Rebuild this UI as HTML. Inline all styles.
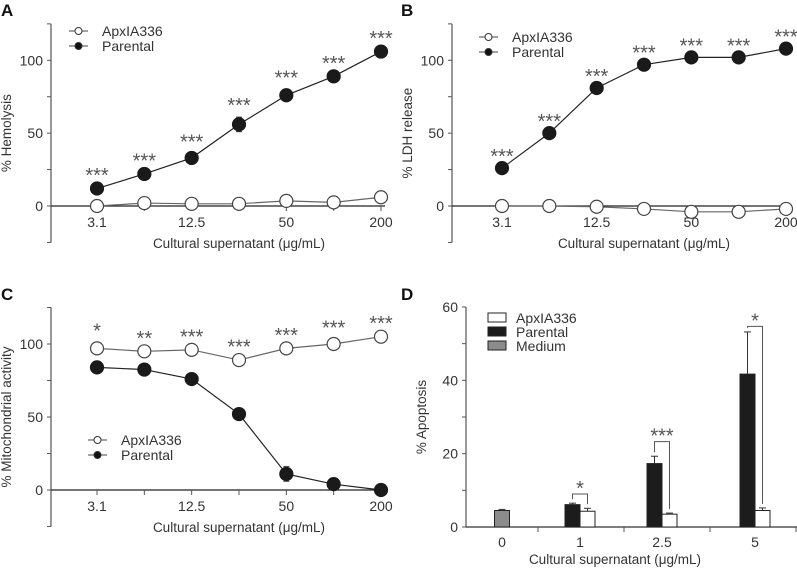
<!DOCTYPE html>
<html><head><meta charset="utf-8"><style>
body{margin:0;background:#fff}
svg{display:block;font-family:"Liberation Sans",sans-serif}
</style></head><body>
<svg id="fig" width="797" height="570" viewBox="0 0 797 570"></svg>
<script>
const xCats=["3.1","","12.5","","50","","200"];
const aApx=[0,2,1.5,1.5,3.5,2.5,6];
const aPar=[12,22,33,56,76,89,106];
const aParErr=[1,1,3,5,4,1,1];
const aSig=["***","***","***","***","***","***","***"];
const bApx=[0,0,-0.5,-2,-4,-4,-2];
const bPar=[26,50,81,97,102,102,108];
const bSig=["***","***","***","***","***","***","***"];
const cApx=[97,95,96,89,97,100,105];
const cApxErr=[4,1,1,1,1,3,1];
const cPar=[84,82.5,76,52,11,4,0];
const cParErr=[1,1,1,3,5,4,1];
const cSig=["*","**","***","***","***","***","***"];
const dCats=["0","1","2.5","5"];
const dPar=[null,6.1,17.3,41.7];
const dParErr=[0,0.4,2,11.5];
const dApx=[null,4.3,3.5,4.5];
const dApxErr=[0,0.8,0.3,0.7];
const dMed=[4.5,null,null,null];
const dMedErr=[0.3,0,0,0];
const dSig=[null,"*","***","*"];
const yTicks=[0,50,100];
const dTicks=[0,20,40,60];

const svg=document.getElementById('fig');
const NS='http://www.w3.org/2000/svg';
function mk(tag,attrs,parent,text){const e=document.createElementNS(NS,tag);for(const k in attrs)e.setAttribute(k,attrs[k]);if(text!==undefined)e.textContent=text;(parent||svg).appendChild(e);return e;}

function linePanel(o){
  const g=mk('g',{});
  
  
  const y=v=>o.y0-(v/100)*(o.y0-o.y100);
  const x=i=>o.x0+i*(o.x6-o.x0)/6;
  const L=mk('text',{x:o.lx,y:o.ly,'font-size':17,'font-weight':'bold',fill:'#111'},g,o.letter);
  
  const ax=mk('line',{x1:o.ax,x2:o.ax,y1:y(125),y2:y(-25),stroke:'#555','stroke-width':1.2},g);
  
  for(let v=-25;v<=125;v+=25){mk('line',{x1:o.ax-4,x2:o.ax,y1:y(v),y2:y(v),stroke:'#555'},g);}
  yTicks.forEach(v=>{const t=mk('text',{x:o.ax-8,y:y(v)+5,'text-anchor':'end','font-size':14,fill:'#333'},g,v);
    });
  const yl=mk('text',{transform:`translate(${o.ax-40},${y(50)}) rotate(-90)`,'text-anchor':'middle','font-size':13.5,fill:'#333'},g,o.ylabel);
  
  const xa=mk('line',{x1:o.ax,x2:x(6)+4,y1:y(0),y2:y(0),stroke:'#222','stroke-width':1.2},g);
  
  xCats.forEach((c,i)=>{mk('line',{x1:x(i),x2:x(i),y1:y(0),y2:y(0)+5,stroke:'#555'},g);
    if(c){const t=mk('text',{x:x(i),y:y(0)+21,'text-anchor':'middle','font-size':14,fill:'#333'},g,c);
      }});
  const xl=mk('text',{x:(o.x0+o.x6)/2,y:y(0)+42,'text-anchor':'middle','font-size':13.5,fill:'#333'},g,'Cultural supernatant (\u03bcg/mL)');
  
  o.series.forEach(s=>{
    const pts=s.vals.map((v,i)=>x(i)+','+y(v)).join(' ');
    const pl=mk('polyline',{points:pts,fill:'none',stroke:s.fill?'#222':'#666','stroke-width':1.2},g);
    
    s.vals.forEach((v,i)=>{
      const e=(s.err||[])[i]||0;
      if(e){mk('line',{x1:x(i),x2:x(i),y1:y(v+e),y2:y(v-e),stroke:'#333'},g);
        mk('line',{x1:x(i)-3,x2:x(i)+3,y1:y(v+e),y2:y(v+e),stroke:'#333'},g);
        mk('line',{x1:x(i)-3,x2:x(i)+3,y1:y(v-e),y2:y(v-e),stroke:'#333'},g);}
      const c=mk('circle',{cx:x(i),cy:y(v),r:6.5,fill:s.fill?'#1a1a1a':'#fff',stroke:s.fill?'#1a1a1a':'#444','stroke-width':1.2},g);
      
    });
  });
  o.sig.forEach((s,i)=>{const v=Math.max(...o.series.map(se=>se.vals[i]+((se.err||[])[i]||0)));
    const t=mk('text',{x:x(i),y:y(v)-5,'text-anchor':'middle','font-size':20,fill:'#555'},g,s);
    });
  [['ApxIA336',false],['Parental',true]].forEach((l,k)=>{
    const ly=o.legY+k*15;
    const lg=mk('g',{},g);
    
    mk('line',{x1:o.legX,x2:o.legX+19,y1:ly,y2:ly,stroke:'#444'},lg);
    mk('circle',{cx:o.legX+9.5,cy:ly,r:3.5,fill:l[1]?'#111':'#fff',stroke:'#333'},lg);
    mk('text',{x:o.legX+33,y:ly+5,'font-size':14,fill:'#333'},lg,l[0]);
  });
}

linePanel({letter:'A',lx:1,ly:16,ax:51,y0:206,y100:60.3,x0:97,x6:381,ylabel:'% Hemolysis',legX:69,legY:31,
  series:[{name:'apxia336',vals:aApx},{name:'parental',vals:aPar,err:aParErr,fill:true}],sig:aSig});
linePanel({letter:'B',lx:401,ly:16,ax:452,y0:206,y100:60.3,x0:502,x6:786,ylabel:'% LDH release',legX:479,legY:37,
  series:[{name:'apxia336',vals:bApx},{name:'parental',vals:bPar,fill:true}],sig:bSig});
linePanel({letter:'C',lx:1,ly:300,ax:51,y0:490,y100:344,x0:97,x6:381,ylabel:'% Mitochondrial activity',legX:88,legY:440,
  series:[{name:'apxia336',vals:cApx,err:cApxErr},{name:'parental',vals:cPar,err:cParErr,fill:true}],sig:cSig});

(function(){
  const g=mk('g',{});
  
  const ax=466,y0=527,y60=307;
  const y=v=>y0-v/60*(y0-y60);
  const cx=[502,580,662,755];
  const bw=15;
  mk('text',{x:401,y:300,'font-size':17,'font-weight':'bold',fill:'#111'},g,'D');
  const ya=mk('line',{x1:ax,x2:ax,y1:y60,y2:y0,stroke:'#555','stroke-width':1.2},g);
  
  for(let v=0;v<=60;v+=10)mk('line',{x1:ax-4,x2:ax,y1:y(v),y2:y(v),stroke:'#555'},g);
  dTicks.forEach(v=>{const t=mk('text',{x:ax-8,y:y(v)+5,'text-anchor':'end','font-size':14,fill:'#333'},g,v);
    });
  const yl=mk('text',{transform:`translate(${ax-40},${y(30)}) rotate(-90)`,'text-anchor':'middle','font-size':13.5,fill:'#333'},g,'% Apoptosis');
  
  const xa=mk('line',{x1:ax,x2:797,y1:y0,y2:y0,stroke:'#333','stroke-width':1.2},g);
  
  [538,624,710,796].forEach(t=>mk('line',{x1:t,x2:t,y1:y0,y2:y0+5,stroke:'#555'},g));
  dCats.forEach((c,i)=>{const t=mk('text',{x:cx[i],y:y0+20,'text-anchor':'middle','font-size':14,fill:'#333'},g,c);
    });
  const xl=mk('text',{x:615,y:564,'text-anchor':'middle','font-size':13.5,fill:'#333'},g,'Cultural supernatant (\u03bcg/mL)');
  
  function bar(xl_,v,e,fill,name){
    const r=mk('rect',{x:xl_,y:y(v),width:bw,height:y0-y(v),fill:fill,stroke:'#222','stroke-width':1},g);
    
    const m=xl_+bw/2;
    mk('line',{x1:m,x2:m,y1:y(v+e),y2:y(v),stroke:'#333'},g);
    mk('line',{x1:m-3.5,x2:m+3.5,y1:y(v+e),y2:y(v+e),stroke:'#333'},g);
  }
  dMed.forEach((v,i)=>{if(v!==null)bar(cx[i]-bw/2,v,dMedErr[i],'#8c8c8c','bar-medium');});
  dPar.forEach((v,i)=>{if(v!==null)bar(cx[i]-bw,v,dParErr[i],'#1c1c1c','bar-parental');});
  dApx.forEach((v,i)=>{if(v!==null)bar(cx[i],v,dApxErr[i],'#fff','bar-apxia336');});
  dSig.forEach((s,i)=>{if(!s)return;
    const p=dPar[i]+dParErr[i],a=dApx[i]+dApxErr[i];
    const top=Math.max(p,a)+(i===1?2.5:i===2?4:1.5);
    const yt=y(top);
    const xp=cx[i]-bw/2,xa_=cx[i]+bw/2;
    mk('polyline',{points:`${xp},${y(p)-4} ${xp},${yt} ${xa_},${yt} ${xa_},${y(a)-4}`,fill:'none',stroke:'#555'},g);
    const t=mk('text',{x:cx[i],y:yt+1,'text-anchor':'middle','font-size':20,fill:'#555'},g,s);
    });
  [['ApxIA336','#fff'],['Parental','#1c1c1c'],['Medium','#8c8c8c']].forEach((l,k)=>{
    const lg=mk('g',{},g);
    
    const ly=313+k*14;
    mk('rect',{x:488,y:ly,width:18,height:9,fill:l[1],stroke:'#222'},lg);
    mk('text',{x:516,y:ly+10,'font-size':14,fill:'#333'},lg,l[0]);
  });
})();
</script>
</body></html>
